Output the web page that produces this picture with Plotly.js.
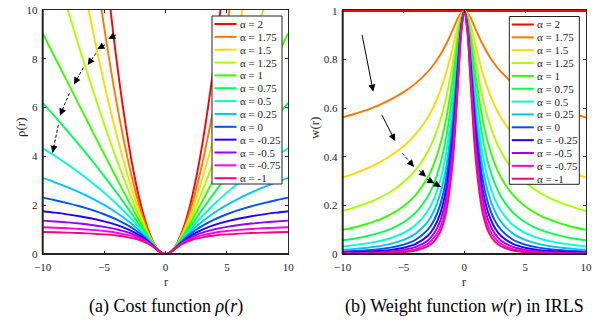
<!DOCTYPE html>
<html>
<head>
<meta charset="utf-8">
<script src="https://cdn.plot.ly/plotly-3.0.1.min.js"></script>
<style>html,body{margin:0;padding:0;background:#fff}#chart{width:613px;height:333px}</style>
</head>
<body>
<div id="chart"></div>
<script>
// ---- data (r >= 0 half, curves are symmetric in r) ----
const alphaLabels = ['2', '1.75', '1.5', '1.25', '1', '0.75', '0.5', '0.25', '0', '-0.25', '-0.5', '-0.75', '-1'];
const rHalf = [0, 0.25, 0.5, 0.75, 1, 1.5, 2, 2.5, 3, 4, 5, 6, 7, 8, 9, 10];

// cost function rho(r)
const rhoA2    = [0, 0.031, 0.125, 0.281, 0.5, 1.125, 2, 3.125, 4.5, 8, 12.5, 18, 24.5, 32, 40.5, 50];
const rhoA175  = [0, 0.031, 0.123, 0.273, 0.477, 1.031, 1.765, 2.663, 3.714, 6.246, 9.316, 12.89, 16.95, 21.47, 26.44, 31.84];
const rhoA15   = [0, 0.031, 0.122, 0.265, 0.455, 0.947, 1.563, 2.279, 3.082, 4.915, 7.009, 9.335, 11.87, 14.59, 17.50, 20.57];
const rhoA125  = [0, 0.031, 0.120, 0.257, 0.434, 0.871, 1.388, 1.959, 2.574, 3.900, 5.330, 6.842, 8.425, 10.07, 11.77, 13.52];
const rhoA1    = [0, 0.031, 0.118, 0.250, 0.414, 0.803, 1.236, 1.693, 2.162, 3.123, 4.099, 5.083, 6.071, 7.062, 8.055, 9.050];
const rhoA075  = [0, 0.031, 0.116, 0.243, 0.396, 0.741, 1.105, 1.469, 1.829, 2.525, 3.191, 3.831, 4.448, 5.046, 5.627, 6.193];
const rhoA05   = [0, 0.031, 0.115, 0.236, 0.378, 0.685, 0.991, 1.282, 1.557, 2.061, 2.516, 2.933, 3.318, 3.679, 4.018, 4.340];
const rhoA025  = [0, 0.030, 0.113, 0.230, 0.362, 0.635, 0.891, 1.124, 1.334, 1.700, 2.011, 2.282, 2.523, 2.740, 2.939, 3.122];
const rhoA0    = [0, 0.030, 0.112, 0.223, 0.347, 0.589, 0.805, 0.991, 1.151, 1.417, 1.629, 1.806, 1.956, 2.087, 2.203, 2.308];
const rhoAm025 = [0, 0.030, 0.110, 0.217, 0.332, 0.548, 0.729, 0.877, 1.000, 1.193, 1.338, 1.453, 1.547, 1.626, 1.694, 1.753];
const rhoAm05  = [0, 0.030, 0.109, 0.211, 0.318, 0.510, 0.663, 0.781, 0.875, 1.015, 1.114, 1.189, 1.248, 1.296, 1.335, 1.369];
const rhoAm075 = [0, 0.030, 0.107, 0.206, 0.305, 0.476, 0.604, 0.699, 0.771, 0.873, 0.940, 0.989, 1.026, 1.055, 1.078, 1.097];
const rhoAm1   = [0, 0.030, 0.106, 0.200, 0.293, 0.445, 0.553, 0.629, 0.684, 0.758, 0.804, 0.836, 0.859, 0.876, 0.890, 0.901];

// weight function w(r)
const wA2    = [1, 1, 1, 1, 1, 1, 1, 1, 1, 1, 1, 1, 1, 1, 1, 1];
const wA175  = [1, 0.992, 0.973, 0.946, 0.917, 0.863, 0.818, 0.781, 0.750, 0.702, 0.666, 0.637, 0.613, 0.593, 0.577, 0.562];
const wA15   = [1, 0.985, 0.946, 0.894, 0.841, 0.745, 0.669, 0.609, 0.562, 0.493, 0.443, 0.406, 0.376, 0.352, 0.332, 0.315];
const wA125  = [1, 0.978, 0.920, 0.846, 0.771, 0.643, 0.547, 0.476, 0.422, 0.346, 0.295, 0.258, 0.231, 0.209, 0.192, 0.177];
const wA1    = [1, 0.970, 0.894, 0.800, 0.707, 0.555, 0.447, 0.371, 0.316, 0.243, 0.196, 0.164, 0.141, 0.124, 0.110, 0.0995];
const wA075  = [1, 0.963, 0.870, 0.757, 0.648, 0.479, 0.366, 0.290, 0.237, 0.170, 0.1305, 0.1047, 0.0867, 0.0736, 0.0637, 0.0559];
const wA05   = [1, 0.956, 0.846, 0.716, 0.595, 0.413, 0.299, 0.226, 0.178, 0.119, 0.0868, 0.0667, 0.0532, 0.0437, 0.0367, 0.0314];
const wA025  = [1, 0.948, 0.823, 0.677, 0.545, 0.357, 0.245, 0.177, 0.133, 0.0838, 0.0578, 0.0424, 0.0326, 0.0259, 0.0212, 0.0176];
const wA0    = [1, 0.941, 0.800, 0.640, 0.500, 0.308, 0.200, 0.138, 0.100, 0.0588, 0.0385, 0.0270, 0.0200, 0.0154, 0.0122, 0.0099];
const wAm025 = [1, 0.934, 0.778, 0.605, 0.459, 0.266, 0.164, 0.108, 0.075, 0.0413, 0.0256, 0.0172, 0.0123, 0.0091, 0.0070, 0.0056];
const wAm05  = [1, 0.927, 0.757, 0.572, 0.420, 0.229, 0.134, 0.084, 0.056, 0.0290, 0.0170, 0.0110, 0.0075, 0.0054, 0.0041, 0.0031];
const wAm075 = [1, 0.920, 0.736, 0.541, 0.386, 0.198, 0.109, 0.066, 0.042, 0.0203, 0.0113, 0.0070, 0.0046, 0.0032, 0.0023, 0.0018];
const wAm1   = [1, 0.913, 0.716, 0.512, 0.354, 0.171, 0.089, 0.051, 0.032, 0.0143, 0.0075, 0.0044, 0.0028, 0.0019, 0.0013, 0.0010];

const rhoSeries = [rhoA2, rhoA175, rhoA15, rhoA125, rhoA1, rhoA075, rhoA05, rhoA025, rhoA0, rhoAm025, rhoAm05, rhoAm075, rhoAm1];
const wSeries = [wA2, wA175, wA15, wA125, wA1, wA075, wA05, wA025, wA0, wAm025, wAm05, wAm075, wAm1];

const xTicks = [-10, -5, 0, 5, 10];
const rhoTicks = [0, 2, 4, 6, 8, 10];
const wTicks = [0, 0.2, 0.4, 0.6, 0.8, 1];

// ---- styling ----
const colors = ['#ff0000', '#ff7700', '#ffd900', '#a8ff00', '#33ff00', '#00ff55', '#00ffcc', '#00c4ff',
                '#0050ff', '#2000ff', '#9900ff', '#ff00ee', '#ff0077'];
const W = 613, H = 333;
const px = v => v / W;
const py = v => 1 - v / H;
const FONT = 'Liberation Serif';
const TXT = '#262626';

// mirror half-curves to full symmetric range
const fullX = rHalf.slice(1).map(v => -v).reverse().concat(rHalf);
const fullY = arr => arr.slice(1).reverse().concat(arr);

const traces = [];
rhoSeries.forEach((s, i) => traces.push({
  x: fullX, y: fullY(s), xaxis: 'x', yaxis: 'y', type: 'scatter', mode: 'lines',
  line: {color: colors[i], width: 1.9, shape: 'spline', smoothing: 1}, showlegend: false,
  name: 'α = ' + alphaLabels[i]
}));
wSeries.forEach((s, i) => traces.push({
  x: fullX, y: fullY(s), xaxis: 'x2', yaxis: 'y2', type: 'scatter', mode: 'lines',
  line: {color: colors[i], width: 1.9, shape: 'spline', smoothing: 1}, showlegend: false,
  name: 'α = ' + alphaLabels[i]
}));

// plot area pixel boxes
const L = {x0: 42.7, x1: 288.3, y0: 254, y1: 10};
const R = {x0: 342.7, x1: 586, y0: 254, y1: 10};

const axCommon = {
  showgrid: false, zeroline: false, showline: true, linecolor: TXT, linewidth: 1,
  mirror: 'ticks', ticks: 'inside', ticklen: 3, tickcolor: TXT, tickwidth: 1,
  tickfont: {family: FONT, size: 11, color: TXT}, automargin: false, fixedrange: true
};

const shapes = [];
const annotations = [];

// thicker left/bottom spines
[L, R].forEach(b => {
  shapes.push({type: 'line', xref: 'paper', yref: 'paper', x0: px(b.x0), x1: px(b.x0), y0: py(b.y0), y1: py(b.y1), line: {color: '#222', width: 2}});
  shapes.push({type: 'line', xref: 'paper', yref: 'paper', x0: px(b.x0), x1: px(b.x1), y0: py(b.y0), y1: py(b.y0), line: {color: '#222', width: 2}});
});

// manual legends (Plotly legend rows can't be this compact)
function addLegend(left, top, right, bottom) {
  shapes.push({type: 'rect', xref: 'paper', yref: 'paper', x0: px(left), x1: px(right), y0: py(bottom), y1: py(top),
    fillcolor: '#ffffff', line: {color: '#222', width: 1}});
  alphaLabels.forEach((lab, i) => {
    const yc = top + 8 + i * 12.85;
    shapes.push({type: 'line', xref: 'paper', yref: 'paper', x0: px(left + 2.5), x1: px(left + 24.5), y0: py(yc), y1: py(yc),
      line: {color: colors[i], width: 2}});
    annotations.push({xref: 'paper', yref: 'paper', x: px(left + 25.5), y: py(yc), xanchor: 'left', yanchor: 'middle',
      text: 'α = ' + lab, showarrow: false, font: {family: FONT, size: 11, color: '#222'}});
  });
}
addLegend(212, 16, 282, 184);
addLegend(509.3, 16.5, 579.3, 184.3);

// arrows
const scaleL = {sx: (L.x1 - L.x0) / 20, sy: (L.y0 - L.y1) / 10};
const scaleR = {sx: (R.x1 - R.x0) / 20, sy: (R.y0 - R.y1) / 1.004};
function arrow(xa, ya, sc, tail, head, dashed) {
  const dx = (tail[0] - head[0]) * sc.sx, dy = -(tail[1] - head[1]) * sc.sy;
  const len = Math.hypot(dx, dy);
  if (dashed) {
    shapes.push({type: 'line', xref: xa, yref: ya, x0: tail[0], y0: tail[1], x1: head[0], y1: head[1],
      line: {color: '#000', width: 1, dash: '3px,2px'}});
    const hl = Math.min(9, len);
    annotations.push({xref: xa, yref: ya, x: head[0], y: head[1], ax: dx / len * hl, ay: dy / len * hl,
      showarrow: true, arrowhead: 2, arrowsize: 1.4, arrowwidth: 1, arrowcolor: '#000', text: '', standoff: 0});
  } else {
    annotations.push({xref: xa, yref: ya, x: head[0], y: head[1], ax: dx, ay: dy,
      showarrow: true, arrowhead: 2, arrowsize: 1.4, arrowwidth: 1, arrowcolor: '#000', text: '', standoff: 0});
  }
}
const leftArrows = [
  [[-4.03, 8.98], [-4.66, 8.81]],
  [[-4.93, 8.57], [-5.55, 8.40]],
  [[-5.66, 8.23], [-6.34, 7.75]],
  [[-6.69, 7.64], [-7.45, 6.95]],
  [[-7.83, 6.59], [-8.59, 5.67]],
  [[-8.73, 5.29], [-9.19, 4.15]]
];
leftArrows.forEach(a => arrow('x', 'y', scaleL, a[0], a[1], true));
const rightArrows = [
  [[-8.43, 0.908], [-7.49, 0.668], false],
  [[-6.85, 0.579], [-5.69, 0.465], false],
  [[-5.10, 0.414], [-4.14, 0.359], true],
  [[-3.71, 0.343], [-3.14, 0.318], true],
  [[-3.07, 0.308], [-2.47, 0.291], true],
  [[-2.46, 0.291], [-1.94, 0.276], true]
];
rightArrows.forEach(a => arrow('x2', 'y2', scaleR, a[0], a[1], a[2]));

// axis titles and captions
const addText = (x, y, text, size, angle, color) => annotations.push({xref: 'paper', yref: 'paper', x: px(x), y: py(y),
  xanchor: 'center', yanchor: 'middle', text, showarrow: false, textangle: angle || 0,
  font: {family: FONT, size, color: color || TXT}});
addText(165.5, 282, 'r', 12);
addText(464.3, 282, 'r', 12);
addText(20, 128, 'ρ(r)', 13, -90);
addText(314, 128, 'w(r)', 13, -90);
addText(165.5, 306, '(a) Cost function <i>ρ</i>(<i>r</i>)', 18, 0, '#000');
addText(464.3, 306, '(b) Weight function <i>w</i>(<i>r</i>) in IRLS', 18, 0, '#000');

const layout = {
  width: W, height: H, margin: {l: 0, r: 0, t: 0, b: 0}, paper_bgcolor: '#fff', plot_bgcolor: '#fff',
  showlegend: false, font: {family: FONT},
  xaxis: Object.assign({}, axCommon, {domain: [px(L.x0), px(L.x1)], range: [-10, 10], tickvals: xTicks, anchor: 'y', ticklabelstandoff: 3}),
  yaxis: Object.assign({}, axCommon, {domain: [py(L.y0), py(L.y1)], range: [0, 10], tickvals: rhoTicks, anchor: 'x', ticklabelstandoff: 2}),
  xaxis2: Object.assign({}, axCommon, {domain: [px(R.x0), px(R.x1)], range: [-10, 10], tickvals: xTicks, anchor: 'y2', ticklabelstandoff: 3}),
  yaxis2: Object.assign({}, axCommon, {domain: [py(R.y0), py(R.y1)], range: [0, 1.004], tickvals: wTicks, anchor: 'x2', ticklabelstandoff: 2}),
  shapes, annotations
};

Plotly.newPlot('chart', traces, layout, {staticPlot: true, displayModeBar: false});
</script>
</body>
</html>
